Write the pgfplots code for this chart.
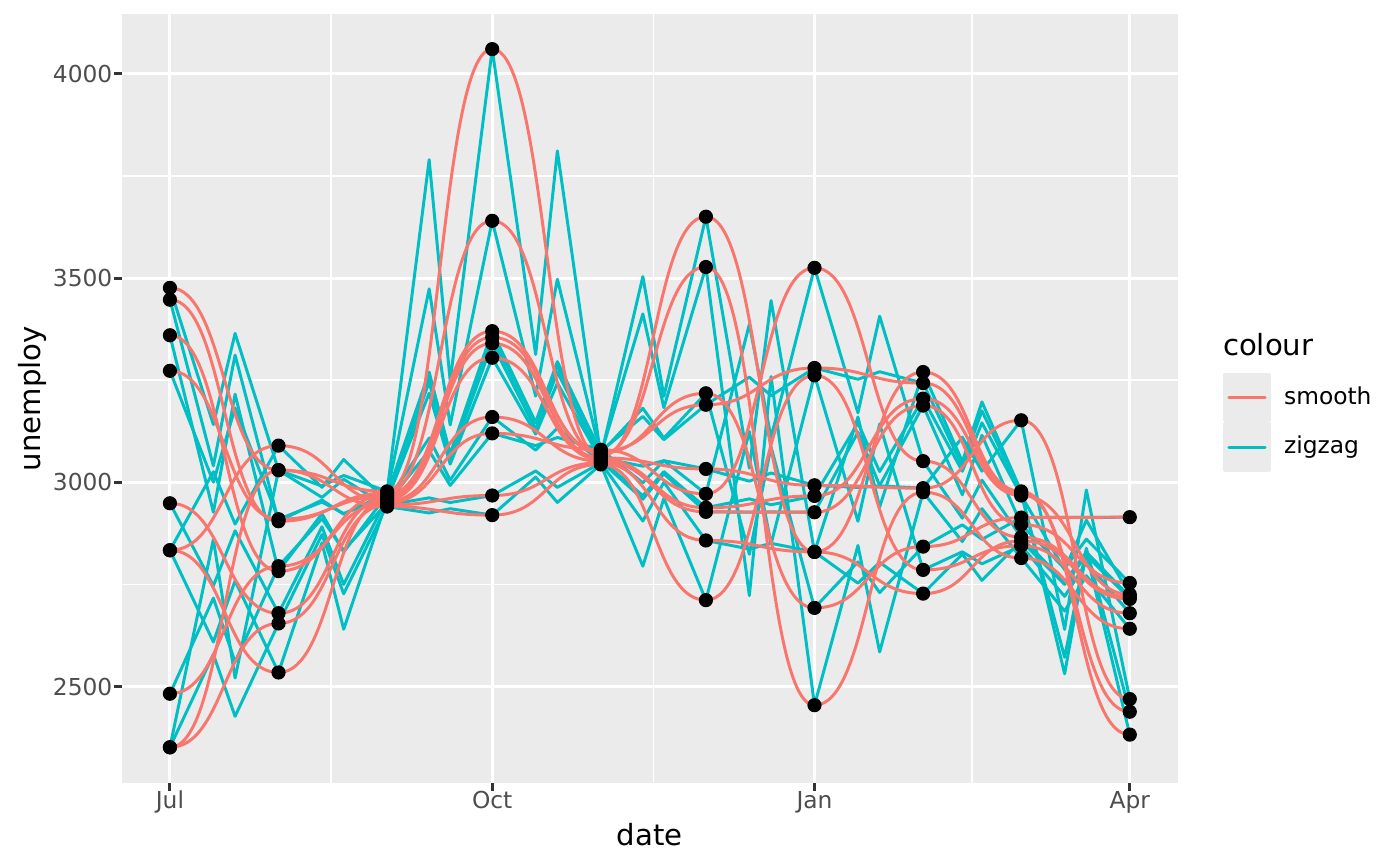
\documentclass[border=0pt]{standalone}
\usepackage{fontspec}
\setmainfont{DejaVu Sans}
\usepackage{pgfplots}
\usepackage{pgfplotstable}
\pgfplotsset{compat=1.18}
\definecolor{ggred}{HTML}{F8766D}
\definecolor{ggcyan}{HTML}{00BFC4}
\definecolor{ggbg}{HTML}{EBEBEB}
\definecolor{ggtick}{HTML}{333333}
\definecolor{ggtext}{HTML}{4D4D4D}
\makeatletter
\def\pgfplothandlerhsmooth{%
  \def\pgf@plotstreamstart{%
    \global\let\pgf@plotstreampoint=\hs@first
    \global\let\pgf@plotstreamspecial=\pgfutil@gobble
    \global\let\pgf@plotstreamend=\relax
  }%
}
\def\hs@first#1{%
  \pgf@process{#1}%
  \xdef\hs@lx{\the\pgf@x}\xdef\hs@ly{\the\pgf@y}%
  \pgf@plot@first@action{\pgfqpoint{\hs@lx}{\hs@ly}}%
  \global\let\pgf@plotstreampoint=\hs@next
}
\def\hs@next#1{%
  \pgf@process{#1}%
  \edef\hs@nx{\the\pgf@x}\edef\hs@ny{\the\pgf@y}%
  \pgf@xa=\hs@nx\relax \advance\pgf@xa by -\hs@lx\relax
  \pgf@xa=0.5\pgf@xa
  \pgf@xb=\hs@lx\relax \advance\pgf@xb by \pgf@xa
  \pgf@xc=\hs@nx\relax \advance\pgf@xc by -\pgf@xa
  \edef\hs@ca{\the\pgf@xb}\edef\hs@cb{\the\pgf@xc}%
  \pgfpathcurveto{\pgfqpoint{\hs@ca}{\hs@ly}}{\pgfqpoint{\hs@cb}{\hs@ny}}{\pgfqpoint{\hs@nx}{\hs@ny}}%
  \xdef\hs@lx{\hs@nx}\xdef\hs@ly{\hs@ny}%
}
\tikzset{hsmooth/.code={\let\tikz@plot@handler=\pgfplothandlerhsmooth}}
\makeatother

\pgfplotstableread{
x s1 s2 s3 s4 s5 s6 s7 s8 s9 s10
0 3476 3447 3360 3273 2949 2834 2834 2483 2352 2352
31 3030 2905 2783 2910 2680 2535 3090 2795 2655 3030
62 2978 2974 2970 2966 2962 2958 2954 2950 2945 2941
92 4060 3640 3370 3355 3340 3305 3160 3120 2968 2920
123 3064 3068 3072 3076 3060 3056 3052 3080 3048 3044
153 3650 3527 3218 3190 3033 2938 2928 2972 2858 2712
184 2830 2455 2693 3280 2993 2967 2927 3525 2830 3262
215 3270 2976 2843 3243 2986 3205 3188 3052 2728 2786
243 2978 2815 2914 2972 3152 2968 2897 2866 2857 2845
274 2383 2642 2915 2439 2470 2726 2754 2720 2715 2680
}\smoothtab

\pgfplotstableread{
x z1 z2 z3 z4 z5 z6 z7 z8 z9 z10
0 3476 3447 3360 3273 2949 2834 2834 2483 2352 2352
12.4 3141.5 3040.5 2927.25 3000.75 2747.25 2609.75 3026 2717 2579.25 2860.5
18.6 3364.5 3311.5 3215.75 3182.25 2881.75 2759.25 2898 2561 2427.75 2521.5
31 3030 2905 2783 2910 2680 2535 3090 2795 2655 3030
43.4 2991 2956.75 2923.25 2952 2891.5 2852.25 2988 2911.25 2872.5 2963.25
49.6 3017 2922.25 2829.75 2924 2750.5 2640.75 3056 2833.75 2727.5 3007.75
62 2978 2974 2970 2966 2962 2958 2954 2950 2945 2941
74 3789.5 3473.5 3270 3257.75 3245.5 3218.25 3108.5 3077.5 2962.25 2925.25
80 3248.5 3140.5 3070 3063.25 3056.5 3044.75 3005.5 2992.5 2950.75 2935.75
92 4060 3640 3370 3355 3340 3305 3160 3120 2968 2920
104.4 3313 3211 3146.5 3145.75 3130 3118.25 3079 3090 3028 3013
110.6 3811 3497 3295.5 3285.25 3270 3242.75 3133 3110 2988 2951
123 3064 3068 3072 3076 3060 3056 3052 3080 3048 3044
135 3503.5 3412.25 3181.5 3161.5 3039.75 2967.5 2959 2999 2905.5 2795
141 3210.5 3182.75 3108.5 3104.5 3053.25 3026.5 3021 3053 3000.5 2961
153 3650 3527 3218 3190 3033 2938 2928 2972 2858 2712
165.4 3035 2723 2824.25 3257.5 3003 2959.75 2927.25 3386.75 2837 3124.5
171.6 3445 3259 3086.75 3212.5 3023 2945.25 2927.75 3110.25 2851 2849.5
184 2830 2455 2693 3280 2993 2967 2927 3525 2830 3262
196.4 3160 2845.75 2805.5 3252.25 2987.75 3145.5 3122.75 3170.25 2753.5 2905
202.6 2940 2585.25 2730.5 3270.75 2991.25 3026.5 2992.25 3406.75 2804.5 3143
215 3270 2976 2843 3243 2986 3205 3188 3052 2728 2786
226.2 3051 2855.25 2896.25 3039.75 3110.5 3027.25 2969.75 2912.5 2824.75 2830.25
231.8 3197 2935.75 2860.75 3175.25 3027.5 3145.75 3115.25 3005.5 2760.25 2800.75
243 2978 2815 2914 2972 3152 2968 2897 2866 2857 2845
255.4 2531.75 2685.25 2914.75 2572.25 2640.5 2786.5 2789.75 2756.5 2750.5 2721.25
261.6 2829.25 2771.75 2914.25 2838.75 2981.5 2907.5 2861.25 2829.5 2821.5 2803.75
274 2383 2642 2915 2439 2470 2726 2754 2720 2715 2680
}\zigtab

\begin{document}
\begin{tikzpicture}
\path (-43.9pt,-29.9pt) rectangle (460.1pt,281.9pt);
\begin{axis}[
  scale only axis, width=380.1pt, height=276.8pt,
  xmin=-13.7, xmax=287.7, ymin=2264.5, ymax=4145.5,
  axis background/.style={fill=ggbg},
  axis line style={draw=none},
  xtick={0,92,184,274}, xticklabels={Jul,Oct,Jan,Apr},
  ytick={2500,3000,3500,4000}, yticklabels={2500,3000,3500,4000},
  minor xtick={46,138,229}, minor ytick={2750,3250,3750},
  grid=both,
  major grid style={white, line width=1.07pt},
  minor grid style={white, line width=0.53pt},
  tick align=outside, major tick length=2.75pt, minor tick length=0pt,
  xtick pos=left, ytick pos=left,
  major tick style={ggtick, line width=1.07pt},
  tick label style={font=\fontsize{8.4}{10}\selectfont, text=ggtext},
  xticklabel style={inner sep=0pt, anchor=north},
  yticklabel style={inner sep=0pt, anchor=east, xshift=-0.5pt},
  xlabel={date}, ylabel={unemploy},
  label style={font=\fontsize{10.5}{13}\selectfont, inner sep=0pt},
  xlabel style={at={(axis description cs:0.5,-0.0806)}, anchor=base},
  ylabel style={at={(axis description cs:-0.0776,0.5)}, anchor=base},
  legend style={at={(1.0424,0.5336)}, anchor=north west, draw=none, fill=none,
    inner sep=0pt, outer sep=0pt, row sep=0pt, column sep=4.6pt,
    nodes={inner sep=0pt}, cells={anchor=west},
    font=\fontsize{8.4}{10}\selectfont},
  legend image code/.code={%
    \fill[ggbg] (0pt,-8.375pt) rectangle (16.5pt,8.375pt);
    \draw[#1] (1.7pt,0pt) -- (14.8pt,0pt);
  },
  every axis plot/.append style={line join=round, line cap=round},
]
\pgfplotsinvokeforeach{1,...,10}{
  \addplot[ggcyan, line width=1.07pt, sharp plot, forget plot] table[x=x, y=z#1] {\zigtab};
}
\pgfplotsinvokeforeach{1,...,10}{
  \addplot[ggred, line width=1.07pt, hsmooth, forget plot] table[x=x, y=s#1] {\smoothtab};
}
\pgfplotsinvokeforeach{1,...,10}{
  \addplot[only marks, mark=*, mark size=2.35pt, black, forget plot] table[x=x, y=s#1] {\smoothtab};
}
\addlegendimage{ggred, line width=1.07pt}
\addlegendentry{smooth}
\addlegendimage{ggcyan, line width=1.07pt}
\addlegendentry{zigzag}
\end{axis}
\node[anchor=base west, inner sep=0pt, font=\fontsize{10.5}{13}\selectfont] at (396.2pt,154.1pt) {colour};
\end{tikzpicture}
\end{document}
